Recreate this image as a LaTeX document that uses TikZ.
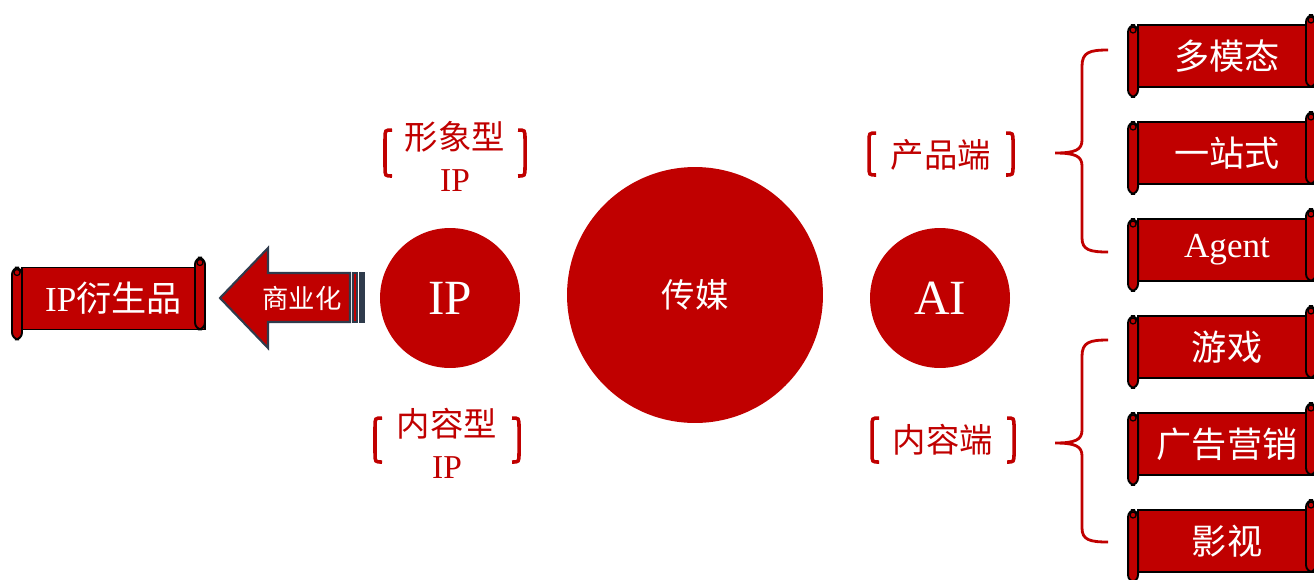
\documentclass[tikz,border=0pt]{standalone}
\usepackage{fontspec}
\setmainfont{Liberation Serif}
\newfontfamily\cjk{Noto Sans CJK SC}
\definecolor{darkred}{HTML}{C00000}
\definecolor{arrowline}{HTML}{2F3B4C}

% rolled ends of a scroll banner, drawn round a named node
\newcommand\scrollrolls[1]{%
  \draw[roll] (#1.north west) ++(-10,0) rectangle ++(10,72);
  \draw[roll] (#1.north east) ++(-10,-10) rectangle ++(10,72);
  \draw[curl] (#1.north west) ++(-5,5) circle[radius=3];
  \draw[curl] (#1.north east) ++(-5,-5) circle[radius=3];
}
% square brackets round a label: x, y, half width, half height
\newcommand\labelbrackets[4]{%
  \begin{scope}[shift={(#1,#2)}]
    \draw[bracket] (-#3+7,-#4) .. controls (-#3,-#4) .. (-#3,-#4+9) -- (-#3,#4-9) .. controls (-#3,#4) .. (-#3+7,#4);
    \draw[bracket] (#3-7,-#4) .. controls (#3,-#4) .. (#3,-#4+9) -- (#3,#4-9) .. controls (#3,#4) .. (#3-7,#4);
  \end{scope}}

\begin{document}
\begin{tikzpicture}[
  x=0.02cm, y=-0.02cm,
  banner/.style={draw=black, line width=1.1pt, fill=darkred, text=white, inner sep=0pt, outer sep=0pt,
    minimum width=3.56cm, minimum height=1.24cm, font=\cjk\fontsize{20}{24}\selectfont},
  roll/.style={draw=black, line width=1.1pt, fill=darkred, rounded corners=4pt},
  curl/.style={draw=black, line width=0.7pt},
  ball/.style={circle, fill=darkred, text=white, inner sep=0pt},
  lbl/.style={text=darkred, align=center, font=\cjk\fontsize{19}{24}\selectfont},
  bracket/.style={draw=darkred, line width=2pt},
  brace/.style={draw=darkred, line width=1.6pt},
  arrowshape/.style={draw=arrowline, line width=1.2pt, fill=darkred, line join=miter}
]
\useasboundingbox (0,0) rectangle (1314,579);
\clip (0,0) rectangle (1314,579);

% centre circles
\node[ball, minimum size=5.12cm, font=\cjk\fontsize{19}{22}\selectfont] (media) at (695,295) {传媒};
\node[ball, minimum size=2.8cm, font=\fontsize{28}{30}\selectfont] (ip) at (450,298) {IP};
\node[ball, minimum size=2.8cm, font=\fontsize{28}{30}\selectfont] (ai) at (940,298) {AI};

% IP labels
\node[lbl] (imgip) at (455,156) {形象型\\{\rmfamily IP}};
\labelbrackets{455}{153}{70}{23}
\node[lbl] (cntip) at (447,443) {内容型\\{\rmfamily IP}};
\labelbrackets{447}{440}{72}{22}

% AI labels
\node[lbl] (prod) at (941,155) {产品端};
\labelbrackets{941}{154}{72}{21}
\node[lbl] (cont) at (943,440) {内容端};
\labelbrackets{943}{440}{71}{22}

% braces
\foreach \dy in {0,290} {
  \begin{scope}[shift={(0,\dy)}]
    \draw[brace] (1108,50) .. controls (1090,50) and (1082,52) .. (1082,66) -- (1082,140)
      .. controls (1082,150) and (1075,153) .. (1055,153)
      .. controls (1075,153) and (1082,156) .. (1082,166) -- (1082,238)
      .. controls (1082,250) and (1090,252) .. (1108,252);
  \end{scope}
}

% arrow to derivatives
\draw[arrowshape] (220,298) -- (268,248) -- (268,273) -- (350,273) -- (350,322) -- (268,322) -- (268,348) -- cycle;
\draw[arrowshape] (353,273) rectangle (357,322);
\draw[arrowshape, fill=arrowline] (360,273) rectangle (364,322);
\node[text=white, font=\cjk\fontsize{15}{18}\selectfont] (comm) at (302,298) {商业化};

% left banner
\node[banner, minimum width=3.66cm] (deriv) at (113.5,298.5) {{\rmfamily IP}衍生品};
\scrollrolls{deriv}

% right banners
\node[banner] (multi) at (1227,56) {多模态};
\node[banner] (onestop) at (1227,153) {一站式};
\node[banner, font=\fontsize{20}{24}\selectfont] (agent) at (1227,250) {Agent};
\node[banner] (game) at (1227,347) {游戏};
\node[banner] (ads) at (1227,444) {广告营销};
\node[banner] (film) at (1227,541) {影视};
\foreach \b in {multi,onestop,agent,game,ads,film} {\scrollrolls{\b}}
\end{tikzpicture}
\end{document}
